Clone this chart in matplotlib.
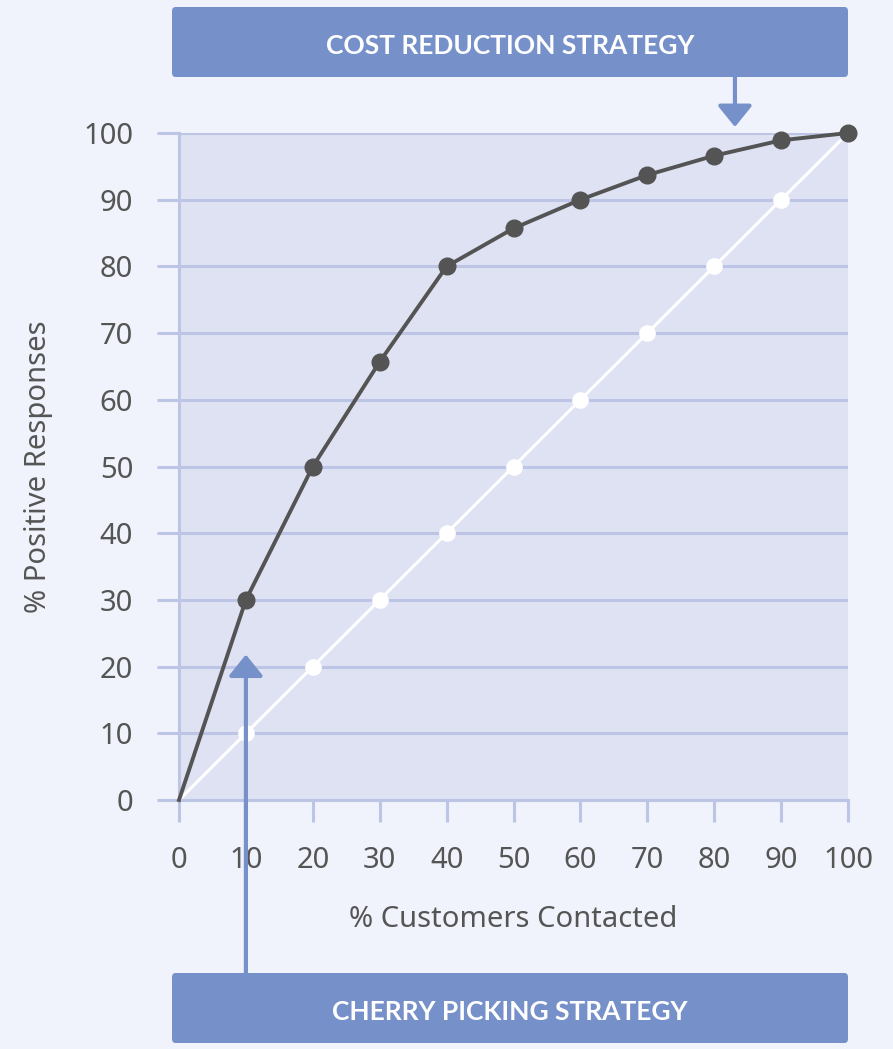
import numpy as np
import matplotlib
matplotlib.use("Agg")
import matplotlib.pyplot as plt
from matplotlib.patches import FancyBboxPatch

# data
contacted = [0, 10, 20, 30, 40, 50, 60, 70, 80, 90, 100]
model_resp = [0, 30, 50, 65.7, 80, 85.7, 90, 93.7, 96.6, 98.9, 100]
random_resp = [0, 10, 20, 30, 40, 50, 60, 70, 80, 90, 100]
yticks = [0, 10, 20, 30, 40, 50, 60, 70, 80, 90, 100]
top_label = "COST REDUCTION STRATEGY"
bottom_label = "CHERRY PICKING STRATEGY"
cost_x = 83.1
cherry_x = 10

fig_bg = "#f0f3fb"
plot_bg = "#dfe2f3"
grid_c = "#bcc5e6"
box_c = "#7690c9"
text_c = "#555555"
dark = "#545454"

plt.rcParams['font.family'] = ['Noto Sans', 'DejaVu Sans']

fig = plt.figure(figsize=(8.93, 10.49), dpi=100, facecolor=fig_bg)
W, H = 893, 1049
ax = fig.add_axes([179 / W, 1 - 800 / H, (848 - 179) / W, (800 - 133) / H])
ax.set_facecolor(plot_bg)
ax.set_xlim(0, 100)
ax.set_ylim(0, 100)

for s in ["top", "right"]:
    ax.spines[s].set_visible(False)
for s in ["left", "bottom"]:
    ax.spines[s].set_color(grid_c)
    ax.spines[s].set_linewidth(2.2)

ax.set_yticks(yticks)
ax.set_xticks(contacted)
ax.tick_params(axis="both", colors=grid_c, width=2.2, length=16,
               labelcolor=text_c, labelsize=21)
ax.tick_params(axis="y", pad=17)
ax.tick_params(axis="x", pad=17)
ax.yaxis.grid(True, color=grid_c, linewidth=2.2)
ax.set_axisbelow(True)

ax.plot(contacted, random_resp, color="white", lw=2.2, zorder=3)
ax.plot(contacted[1:-1], random_resp[1:-1], "o", color="white", ms=11, zorder=3)
ax.plot(contacted, model_resp, color=dark, lw=2.8, zorder=4, clip_on=False)
ax.plot(contacted[1:], model_resp[1:], "o", color=dark, ms=12, zorder=4, clip_on=False)

ax.set_xlabel("% Customers Contacted", fontsize=21, color=text_c, labelpad=22)
ax.set_ylabel("% Positive Responses", fontsize=21, color=text_c, labelpad=22)

# label boxes
for y0, label in [(1 - 77 / H, top_label), (1 - 1043 / H, bottom_label)]:
    box = FancyBboxPatch((172 / W, y0), (848 - 172) / W, 70 / H,
                         boxstyle="round,pad=0,rounding_size=0.004",
                         transform=fig.transFigure, facecolor=box_c,
                         edgecolor="none")
    fig.patches.append(box)
    fig.text((172 + 848) / 2 / W, y0 + 31 / H, label, color="white",
             fontsize=19, fontweight="bold", ha="center", va="center",
             family=["Lato", "Open Sans", "DejaVu Sans"])

arrow = dict(arrowstyle="-|>,head_length=1.3,head_width=1.05",
             mutation_scale=10, color=box_c, lw=3, shrinkA=0, shrinkB=0)
ax.annotate("", xy=(cost_x, 100.9), xycoords="data",
            xytext=(cost_x, 1 - 77 / H), textcoords=("data", "figure fraction"),
            arrowprops=arrow, annotation_clip=False)
ax.annotate("", xy=(cherry_x, 21.8), xycoords="data",
            xytext=(cherry_x, 1 - 973 / H), textcoords=("data", "figure fraction"),
            arrowprops=arrow, annotation_clip=False, zorder=5)

fig.savefig("out.png", dpi=100, facecolor=fig_bg)
